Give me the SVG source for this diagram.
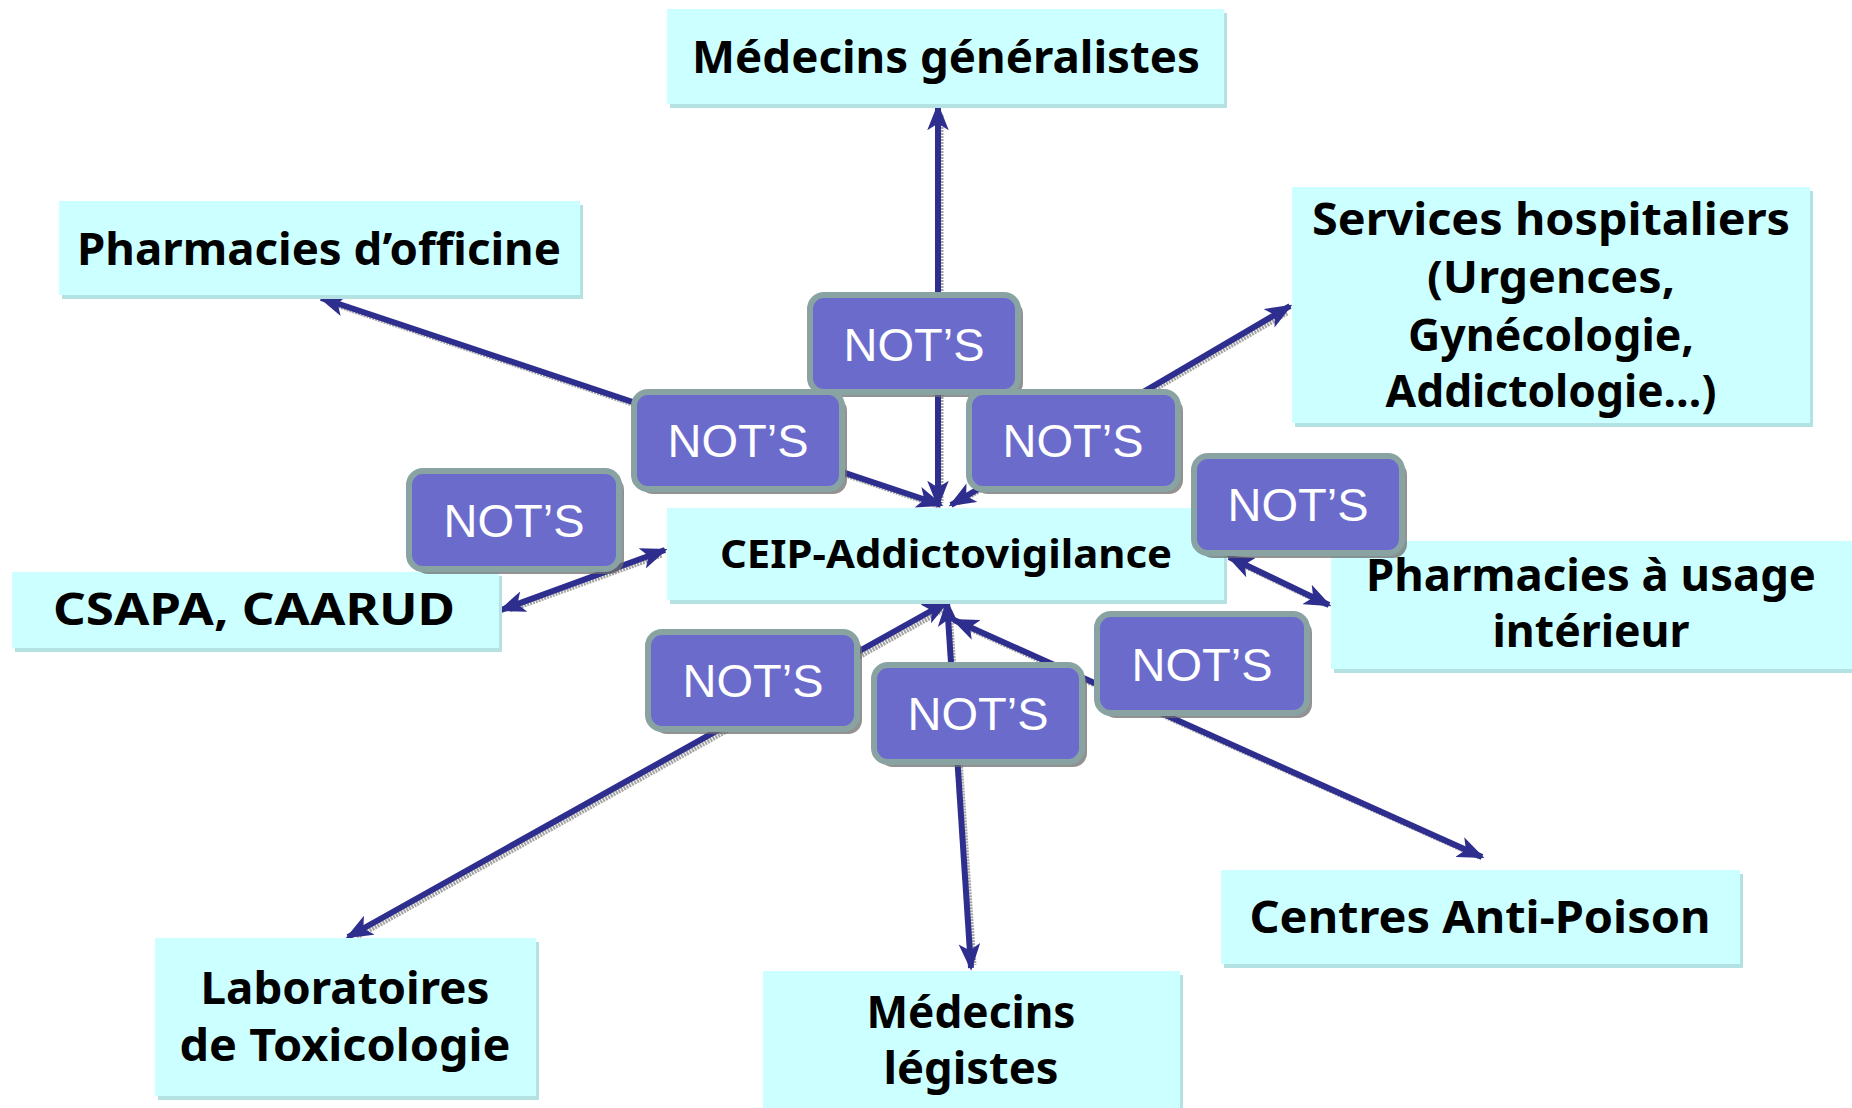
<svg xmlns="http://www.w3.org/2000/svg" width="1852" height="1108" viewBox="0 0 1852 1108">
<defs>
<style>
.box{fill:#CCFFFF}
.bsh{fill:#B4E2E2}
.lbl{font-family:"Comic Sans MS","Noto Sans","DejaVu Sans",sans-serif;font-weight:bold;fill:#000;text-anchor:middle}
.big{font-size:44px}
.mid{font-size:40px}
.nb{fill:#6B6BCC;stroke:#89A3A3;stroke-width:6}
.nsh{fill:#6E6E6E;opacity:0.75}
.nt{font-family:"Liberation Sans",Arial,sans-serif;font-size:47px;fill:#FFFFFF;text-anchor:middle}
.ln{stroke:#2E2E8E;stroke-width:6;fill:none;marker-start:url(#ah);marker-end:url(#ah)}
.lsh{stroke:#8C8C8C;stroke-width:5;fill:none;stroke-dasharray:2 1;opacity:0.8}
</style>
<marker id="ah" viewBox="0 0 20 16" refX="18" refY="8" markerWidth="27" markerHeight="22" markerUnits="userSpaceOnUse" orient="auto-start-reverse">
<path d="M0,0 L20,8 L0,16 L5,8 Z" fill="#2E2E8E"/>
</marker>
</defs>
<rect width="1852" height="1108" fill="#FFFFFF"/>

<g id="connectors">
<g transform="translate(3,3)">
<line class="lsh" x1="938" y1="112" x2="938" y2="500"/>
<line class="lsh" x1="327" y1="300" x2="935" y2="503"/>
<line class="lsh" x1="1284" y1="310" x2="955" y2="500"/>
<line class="lsh" x1="507" y1="607" x2="659" y2="552"/>
<line class="lsh" x1="1235" y1="560" x2="1323" y2="602"/>
<line class="lsh" x1="942" y1="606" x2="354" y2="934"/>
<line class="lsh" x1="947" y1="608" x2="971" y2="962"/>
<line class="lsh" x1="960" y1="623" x2="1476" y2="854"/>
</g>
<line class="ln" x1="938" y1="505" x2="938" y2="106"/>
<line class="ln" x1="941" y1="505" x2="321" y2="298"/>
<line class="ln" x1="951" y1="505" x2="1290" y2="306"/>
<line class="ln" x1="665" y1="550" x2="501" y2="610"/>
<line class="ln" x1="1229" y1="557" x2="1329" y2="605"/>
<line class="ln" x1="947" y1="602" x2="348" y2="937"/>
<line class="ln" x1="947" y1="602" x2="971" y2="968"/>
<line class="ln" x1="954" y1="620" x2="1482" y2="857"/>
</g>

<g id="medecins-generalistes">
<rect class="bsh" x="670" y="13" width="557" height="95"/>
<rect class="box" x="667" y="9" width="557" height="95"/>
<text class="lbl big" x="946" y="73" textLength="508" lengthAdjust="spacingAndGlyphs">Médecins généralistes</text>
</g>

<g id="pharmacies-officine">
<rect class="bsh" x="62" y="205" width="521" height="94"/>
<rect class="box" x="59" y="201" width="521" height="94"/>
<text class="lbl big" x="319" y="265" textLength="484" lengthAdjust="spacingAndGlyphs">Pharmacies d’officine</text>
</g>

<g id="services-hospitaliers">
<rect class="bsh" x="1295" y="191" width="518" height="236"/>
<rect class="box" x="1292" y="187" width="518" height="236"/>
<text class="lbl big" x="1551" y="235" textLength="478" lengthAdjust="spacingAndGlyphs">Services hospitaliers</text>
<text class="lbl big" x="1551" y="293" textLength="248" lengthAdjust="spacingAndGlyphs">(Urgences,</text>
<text class="lbl big" x="1551" y="351" textLength="286" lengthAdjust="spacingAndGlyphs">Gynécologie,</text>
<text class="lbl big" x="1551" y="407" textLength="331" lengthAdjust="spacingAndGlyphs">Addictologie…)</text>
</g>

<g id="ceip">
<rect class="bsh" x="670" y="512" width="557" height="92"/>
<rect class="box" x="667" y="508" width="557" height="92"/>
<text class="lbl mid" x="946" y="568" textLength="452" lengthAdjust="spacingAndGlyphs">CEIP-Addictovigilance</text>
</g>

<g id="csapa">
<rect class="bsh" x="15" y="576" width="487" height="76"/>
<rect class="box" x="12" y="572" width="487" height="76"/>
<text class="lbl big" x="254" y="625" textLength="402" lengthAdjust="spacingAndGlyphs">CSAPA, CAARUD</text>
</g>

<g id="pharmacies-usage-interieur">
<rect class="bsh" x="1334" y="545" width="518" height="128"/>
<rect class="box" x="1331" y="541" width="521" height="128"/>
<text class="lbl big" x="1591" y="591" textLength="450" lengthAdjust="spacingAndGlyphs">Pharmacies à usage</text>
<text class="lbl big" x="1591" y="647" textLength="197" lengthAdjust="spacingAndGlyphs">intérieur</text>
</g>

<g id="laboratoires">
<rect class="bsh" x="158" y="942" width="381" height="158"/>
<rect class="box" x="155" y="938" width="381" height="158"/>
<text class="lbl big" x="345" y="1004" textLength="289" lengthAdjust="spacingAndGlyphs">Laboratoires</text>
<text class="lbl big" x="345" y="1061" textLength="331" lengthAdjust="spacingAndGlyphs">de Toxicologie</text>
</g>

<g id="medecins-legistes">
<rect class="bsh" x="766" y="975" width="417" height="137"/>
<rect class="box" x="763" y="971" width="417" height="137"/>
<text class="lbl big" x="971" y="1028" textLength="209" lengthAdjust="spacingAndGlyphs">Médecins</text>
<text class="lbl big" x="971" y="1084" textLength="175" lengthAdjust="spacingAndGlyphs">légistes</text>
</g>

<g id="centres-anti-poison">
<rect class="bsh" x="1224" y="874" width="519" height="94"/>
<rect class="box" x="1221" y="870" width="519" height="94"/>
<text class="lbl big" x="1480" y="933" textLength="461" lengthAdjust="spacingAndGlyphs">Centres Anti-Poison</text>
</g>

<g id="nots-1">
<rect class="nsh" x="815" y="300" width="208" height="97" rx="14"/>
<rect class="nb" x="810" y="295" width="208" height="97" rx="14"/>
<text class="nt" x="914" y="361">NOT’S</text>
</g>
<g id="nots-2">
<rect class="nsh" x="639" y="397" width="208" height="97" rx="14"/>
<rect class="nb" x="634" y="392" width="208" height="97" rx="14"/>
<text class="nt" x="738" y="457">NOT’S</text>
</g>
<g id="nots-3">
<rect class="nsh" x="974" y="397" width="209" height="97" rx="14"/>
<rect class="nb" x="969" y="392" width="209" height="97" rx="14"/>
<text class="nt" x="1073" y="457">NOT’S</text>
</g>
<g id="nots-4">
<rect class="nsh" x="414" y="476" width="210" height="98" rx="14"/>
<rect class="nb" x="409" y="471" width="210" height="98" rx="14"/>
<text class="nt" x="514" y="537">NOT’S</text>
</g>
<g id="nots-5">
<rect class="nsh" x="1199" y="461" width="208" height="97" rx="14"/>
<rect class="nb" x="1194" y="456" width="208" height="97" rx="14"/>
<text class="nt" x="1298" y="521">NOT’S</text>
</g>
<g id="nots-6">
<rect class="nsh" x="653" y="637" width="209" height="97" rx="14"/>
<rect class="nb" x="648" y="632" width="209" height="97" rx="14"/>
<text class="nt" x="753" y="697">NOT’S</text>
</g>
<g id="nots-7">
<rect class="nsh" x="879" y="670" width="208" height="97" rx="14"/>
<rect class="nb" x="874" y="665" width="208" height="97" rx="14"/>
<text class="nt" x="978" y="730">NOT’S</text>
</g>
<g id="nots-8">
<rect class="nsh" x="1102" y="619" width="210" height="99" rx="14"/>
<rect class="nb" x="1097" y="614" width="210" height="99" rx="14"/>
<text class="nt" x="1202" y="681">NOT’S</text>
</g>
</svg>
